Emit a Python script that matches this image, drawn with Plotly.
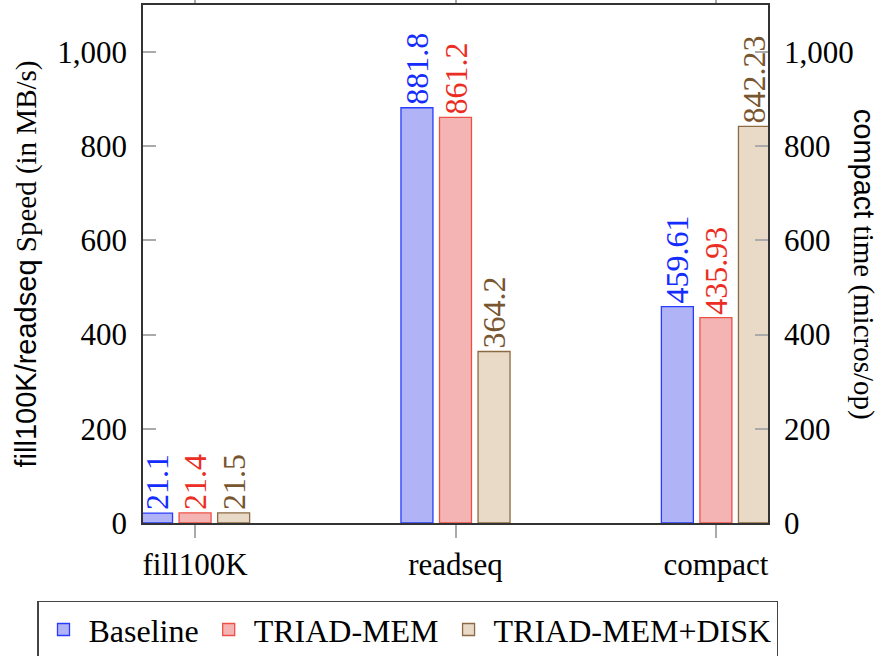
import plotly.graph_objects as go

# ---- data ----
categories = ["fill100K", "readseq", "compact"]
series_names = ["Baseline", "TRIAD-MEM", "TRIAD-MEM+DISK"]
baseline = [21.1, 881.8, 459.61]
triad_mem = [21.4, 861.2, 435.93]
triad_mem_disk = [21.5, 364.2, 842.23]
y_ticks = [0, 200, 400, 600, 800, 1000]

# ---- styles ----
SERIF = "Liberation Serif"
SANS = "Liberation Sans"
fills = ["rgb(176,180,246)", "rgb(244,180,180)", "rgb(233,217,199)"]
edges = ["rgb(40,60,255)", "rgb(238,80,70)", "rgb(140,106,66)"]
label_colors = ["rgb(20,45,255)", "rgb(235,45,35)", "rgb(120,86,48)"]

fig = go.Figure()
for name, vals, fc, ec, lc in zip(series_names, [baseline, triad_mem, triad_mem_disk],
                                  fills, edges, label_colors):
    fig.add_trace(go.Bar(
        x=categories, y=vals, name=name,
        marker=dict(color=fc, line=dict(color=ec, width=1.3)),
        text=[str(v) for v in vals],
        textposition="outside", textangle=-90,
        textfont=dict(family=SERIF, size=32, color=lc),
        constraintext="none",
        hoverinfo="x+y+name",
    ))

# invisible trace to anchor the right-hand axis
fig.add_trace(go.Scatter(x=[categories[0]], y=[None], yaxis="y2",
                         showlegend=False, hoverinfo="skip", mode="markers"))

axis_common = dict(
    range=[0, 1100], tickvals=y_ticks, tickformat=",d",
    ticks="inside", ticklen=13, tickwidth=1.5, tickcolor="#aaaaaa",
    showline=True, linecolor="#333333", linewidth=1.5,
    showgrid=False, zeroline=False, automargin=False,
    tickfont=dict(family=SERIF, size=31, color="black"),
    ticklabelstandoff=8,
)

fig.update_layout(
    width=884, height=656,
    margin=dict(l=143, r=116, t=5, b=133, autoexpand=False),
    paper_bgcolor="white", plot_bgcolor="white",
    barmode="group", bargap=0.556, bargroupgap=0.17,
    font=dict(family=SERIF, size=30, color="black"),
    xaxis=dict(
        type="category", range=[-0.2, 2.2], automargin=False,
        showline=True, linecolor="#333333", linewidth=1.5, mirror="ticks",
        ticks="outside", ticklen=13, tickwidth=1.5, tickcolor="#aaaaaa",
        showgrid=False, zeroline=False,
        tickfont=dict(family=SERIF, size=31, color="black"),
    ),
    yaxis=dict(
        **axis_common,
        title=dict(
            text=f'<span style="font-family:{SANS}">fill100K/readseq</span> Speed (in MB/s)',
            font=dict(family=SERIF, size=29, color="black"),
            standoff=12,
        ),
    ),
    yaxis2=dict(**axis_common, overlaying="y", side="right"),
    legend=dict(
        orientation="h", x=-0.1696, xanchor="left", y=-0.15, yanchor="top",
        font=dict(family=SERIF, size=32, color="black"),
        bordercolor="#444444", borderwidth=1.5, bgcolor="white",
        itemwidth=40,
    ),
    annotations=[dict(
        text=f'<span style="font-family:{SANS}">compact</span> time (micros/op)',
        xref="paper", yref="paper", x=1.154, y=0.5,
        xanchor="center", yanchor="middle", textangle=90, showarrow=False,
        font=dict(family=SERIF, size=29, color="black"),
    )],
)

fig.write_html("out.html", config={"displayModeBar": False})

# remove the default body margin so the figure sits at the window's top-left corner
with open("out.html", "r", encoding="utf-8") as fh:
    html = fh.read()
html = html.replace("<body>", '<body style="margin:0">', 1)
with open("out.html", "w", encoding="utf-8") as fh:
    fh.write(html)
